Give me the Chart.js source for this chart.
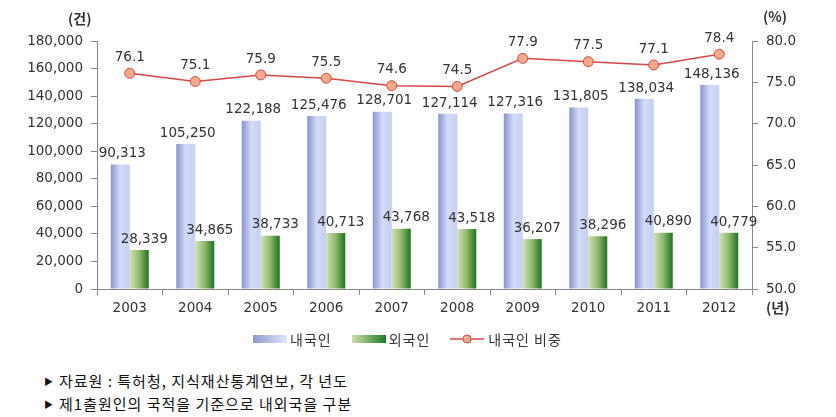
<!DOCTYPE html>
<html>
<head>
<meta charset="utf-8">
<script src="https://cdn.jsdelivr.net/npm/chart.js@4/dist/chart.umd.min.js"></script>
<style>
  body { margin: 0; background: #fff; font-family: "DejaVu Sans", sans-serif; }
  #wrap { position: relative; width: 836px; height: 417px; }
  #chart { position: absolute; left: 0; top: 0; }
  .unit { position: absolute; font: bold 14px "Noto Sans CJK KR", sans-serif; color: #333; }
  #legend { position: absolute; top: 329px; left: 253px; font: 14px "Noto Sans CJK KR", sans-serif; color: #333; display: flex; align-items: center; letter-spacing: 1px; }
  #legend span.box { display: inline-block; width: 34px; height: 8px; margin-right: 3px; }
  #legend .item { display: flex; align-items: center; margin-right: 20px; }
  .note { position: absolute; left: 44px; font: 15px "Noto Sans CJK KR", sans-serif; color: #111; letter-spacing: 1px; }
  .note b { font-size: 9px; font-weight: normal; margin-right: 5px; vertical-align: 2px; }
</style>
</head>
<body>
<div id="wrap">
  <canvas id="chart" width="836" height="330"></canvas>
  <div class="unit" style="left:68px;top:8px;">(건)</div>
  <div class="unit" style="left:763px;top:6px;">(%)</div>
  <div class="unit" style="left:766px;top:297px;">(년)</div>
  <div id="legend">
    <div class="item"><span class="box" style="background:linear-gradient(90deg,#8f98cf,#dfe5fb)"></span>내국인</div>
    <div class="item"><span class="box" style="background:linear-gradient(90deg,#cfe0b0,#1f7a22)"></span>외국인</div>
    <div class="item">
      <svg width="34" height="12" style="margin-right:4px"><line x1="0" y1="6" x2="34" y2="6" stroke="#d4484a" stroke-width="1.5"/><circle cx="17" cy="6" r="4" fill="#f7a98a" stroke="#d4484a" stroke-width="1"/></svg>내국인 비중
    </div>
  </div>
  <div class="note" style="top:370px;"><b>▶</b>자료원 : 특허청, 지식재산통계연보, 각 년도</div>
  <div class="note" style="top:393px;"><b>▶</b>제1출원인의 국적을 기준으로 내외국을 구분</div>
</div>
<script>
// 연도
const years = ["2003", "2004", "2005", "2006", "2007", "2008", "2009", "2010", "2011", "2012"];
// 내국인 출원 건수
const domestic = [90313, 105250, 122188, 125476, 128701, 127114, 127316, 131805, 138034, 148136];
// 외국인 출원 건수
const foreign = [28339, 34865, 38733, 40713, 43768, 43518, 36207, 38296, 40890, 40779];
// 내국인 비중 (%)
const share = [76.1, 75.1, 75.9, 75.5, 74.6, 74.5, 77.9, 77.5, 77.1, 78.4];

const tickFont = { family: "DejaVu Sans", size: 13.5 };

// 막대 그라데이션
function barGradient(c, from, to) {
  const meta = c.chart.getDatasetMeta(c.datasetIndex);
  const el = meta.data[c.dataIndex];
  if (!el || !el.width) return from;
  const ctx = c.chart.ctx;
  const g = ctx.createLinearGradient(el.x - el.width / 2, 0, el.x + el.width / 2, 0);
  g.addColorStop(0, from);
  g.addColorStop(0.5, to[0]);
  g.addColorStop(1, to[1]);
  return g;
}

// 값 라벨 그리기
const valueLabels = {
  id: "valueLabels",
  afterDatasetsDraw(chart) {
    const ctx = chart.ctx;
    ctx.save();
    ctx.font = '13.5px "DejaVu Sans"';
    ctx.fillStyle = "#333";
    ctx.textAlign = "center";
    ctx.textBaseline = "bottom";
    chart.data.datasets.forEach((ds, di) => {
      const meta = chart.getDatasetMeta(di);
      meta.data.forEach((el, i) => {
        const v = ds.data[i];
        if (ds.type === "line") {
          ctx.fillText(v.toFixed(1), el.x, el.y - 9);
        } else {
          const dx = di === 1 ? 2 : 5;
          ctx.fillText(v.toLocaleString("en-US"), el.x + dx, el.y - 4);
        }
      });
    });
    ctx.restore();
  },
};

const chart = new Chart(document.getElementById("chart"), {
  type: "bar",
  plugins: [valueLabels],
  data: {
    labels: years,
    datasets: [
      {
        type: "line",
        label: "내국인 비중",
        data: share,
        yAxisID: "y1",
        borderColor: "#d4484a",
        borderWidth: 1.5,
        pointRadius: 5,
        pointBackgroundColor: "#f7a98a",
        pointBorderColor: "#d4484a",
        pointBorderWidth: 1,
        tension: 0,
        order: 0,
      },
      {
        label: "내국인",
        data: domestic,
        yAxisID: "y",
        backgroundColor: (c) => barGradient(c, "#8a93cc", ["#d3dbf8", "#c6cff2"]),
        order: 1,
      },
      {
        label: "외국인",
        data: foreign,
        yAxisID: "y",
        backgroundColor: (c) => barGradient(c, "#d2e2b6", ["#8fb96a", "#1c7420"]),
        order: 1,
      },
    ],
  },
  options: {
    responsive: false,
    animation: false,
    layout: { padding: { top: 41, left: 0, right: 0, bottom: 0 } },
    datasets: { bar: { categoryPercentage: 0.58, barPercentage: 1 } },
    plugins: { legend: { display: false }, tooltip: { enabled: false } },
    scales: {
      x: {
        grid: { drawOnChartArea: false, color: "#888", tickLength: 6 },
        border: { color: "#888" },
        ticks: { color: "#333", font: tickFont, padding: 5 },
        afterFit: (s) => { s.height = 41; },
      },
      y: {
        position: "left",
        min: 0,
        max: 180000,
        ticks: {
          stepSize: 20000,
          color: "#333",
          font: tickFont,
          padding: 8,
          callback: (v) => v.toLocaleString("en-US"),
        },
        grid: { drawOnChartArea: false, color: "#888", tickLength: 6 },
        border: { color: "#888" },
        afterFit: (s) => { s.width = 97; },
      },
      y1: {
        position: "right",
        min: 50,
        max: 80,
        ticks: {
          stepSize: 5,
          color: "#333",
          font: tickFont,
          padding: 8,
          callback: (v) => v.toFixed(1),
        },
        grid: { drawOnChartArea: false, color: "#888", tickLength: 6 },
        border: { color: "#888" },
        afterFit: (s) => { s.width = 836 - 752; },
      },
    },
  },
});
// 두 번째 갱신으로 그라데이션 위치 반영
chart.update("none");
</script>
</body>
</html>
